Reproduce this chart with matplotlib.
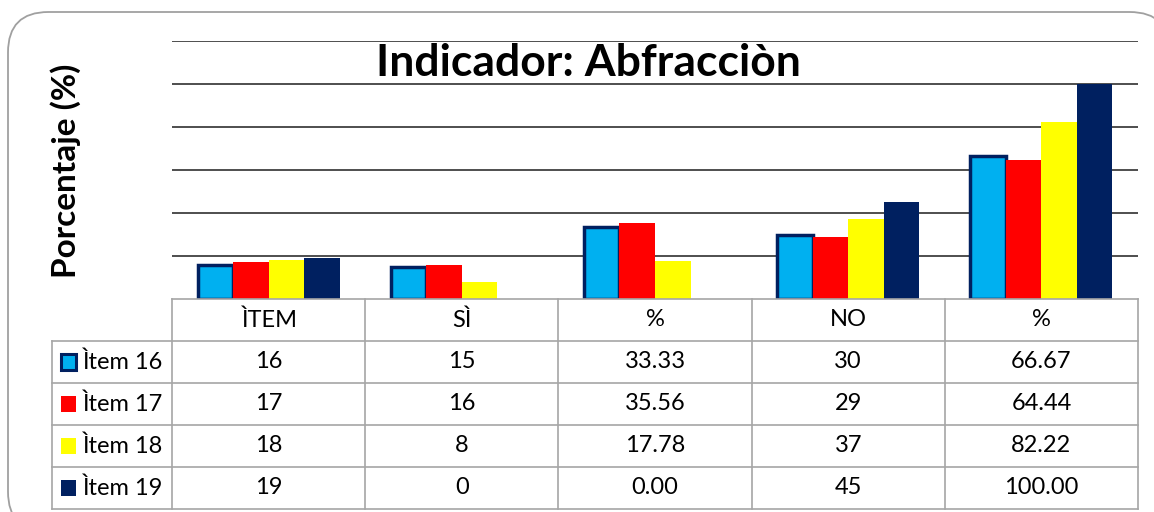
import matplotlib.pyplot as plt
import numpy as np
from matplotlib.patches import FancyBboxPatch, Rectangle

# data
categories = ['ÌTEM', 'SÌ', '%', 'NO', '%']
series_names = ['Ìtem 16', 'Ìtem 17', 'Ìtem 18', 'Ìtem 19']
item16 = [16, 15, 33.33, 30, 66.67]
item17 = [17, 16, 35.56, 29, 64.44]
item18 = [18, 8, 17.78, 37, 82.22]
item19 = [19, 0, 0.00, 45, 100.00]
series = [item16, item17, item18, item19]
cell_fmt = ['{:.0f}', '{:.0f}', '{:.2f}', '{:.0f}', '{:.2f}']

colors = ['#00B0F0', '#FF0000', '#FFFF00', '#002060']
edgecol = '#002060'
gridcol = '#A6A6A6'

plt.rcParams['font.family'] = ['Lato', 'DejaVu Sans']

W, H = 1154, 512
fig = plt.figure(figsize=(W / 100, H / 100), dpi=100)

# rounded outer frame (runs off the right and bottom edges)
frame = FancyBboxPatch((8 / W, -20 / H), 1162 / W, (H - 12 + 20) / H,
                       boxstyle='round,pad=0,rounding_size=0.035',
                       transform=fig.transFigure, facecolor='white',
                       edgecolor='#A0A0A0', lw=1.3, mutation_aspect=W / H, zorder=-5)
fig.patches.append(frame)

left, right = 172 / W, 1138 / W
top, base = 1 - 41 / H, 1 - 299 / H
ax = fig.add_axes([left, base, right - left, top - base])
ax.set_facecolor('none')

x = np.arange(len(categories))
bw = 0.184
for i, vals in enumerate(series):
    off = (i - 1.5) * bw
    if i == 0:
        ax.bar(x + off, vals, bw, color=colors[i], edgecolor=edgecol, lw=2.5, zorder=3)
    else:
        ax.bar(x + off, vals, bw, color=colors[i], lw=0, zorder=3)

ax.set_xlim(-0.5, len(categories) - 0.5)
ax.set_ylim(0, 120)
ax.set_yticks(np.arange(20, 121, 20))
ax.yaxis.grid(True, color='#303030', lw=1.2)
ax.set_axisbelow(True)
ax.tick_params(left=False, bottom=False, labelleft=False, labelbottom=False)
for s in ax.spines.values():
    s.set_visible(False)

fig.text(588 / W, 1 - 63 / H, 'Indicador: Abfracciòn', ha='center', va='center',
         fontsize=32, fontweight='bold')
fig.text(66 / W, 1 - 171 / H, 'Porcentaje (%)', ha='center', va='center',
         rotation=90, fontsize=24, fontweight='bold')

# data table below the chart
tab_bottom = 1 - 509 / H
tax = fig.add_axes([left, tab_bottom, right - left, base - tab_bottom])
tax.set_xlim(-0.5, len(categories) - 0.5)
nrows = len(series)
tax.set_ylim(nrows, -1)
tax.axis('off')

colw_px = (1138 - 172) / len(categories)
leg_x0 = -0.5 - (172 - 52) / colw_px

for j in range(len(categories) + 1):
    tax.plot([j - 0.5, j - 0.5], [-1, nrows], color=gridcol, lw=1.2, clip_on=False)
tax.plot([-0.5, len(categories) - 0.5], [-1, -1], color=gridcol, lw=1.2, clip_on=False)
for r in range(nrows + 1):
    tax.plot([leg_x0, len(categories) - 0.5], [r, r], color=gridcol, lw=1.2, clip_on=False)
tax.plot([leg_x0, leg_x0], [0, nrows], color=gridcol, lw=1.2, clip_on=False)

for j, c in enumerate(categories):
    tax.text(j, -0.5, c, ha='center', va='center', fontsize=17)

mk_w = 15 / colw_px
for r, (name, vals) in enumerate(zip(series_names, series)):
    mx = leg_x0 + 9 / colw_px
    if r == 0:
        tax.add_patch(Rectangle((mx, r + 0.5 - 0.18), mk_w, 0.36, facecolor=colors[r],
                                edgecolor=edgecol, lw=2.2, clip_on=False))
    else:
        tax.add_patch(Rectangle((mx, r + 0.5 - 0.18), mk_w, 0.36, facecolor=colors[r],
                                lw=0, clip_on=False))
    tax.text(leg_x0 + 30 / colw_px, r + 0.5, name, ha='left', va='center',
             fontsize=17, clip_on=False)
    for j, v in enumerate(vals):
        tax.text(j, r + 0.5, cell_fmt[j].format(v), ha='center', va='center', fontsize=17)

fig.savefig('out.png', dpi=100)
